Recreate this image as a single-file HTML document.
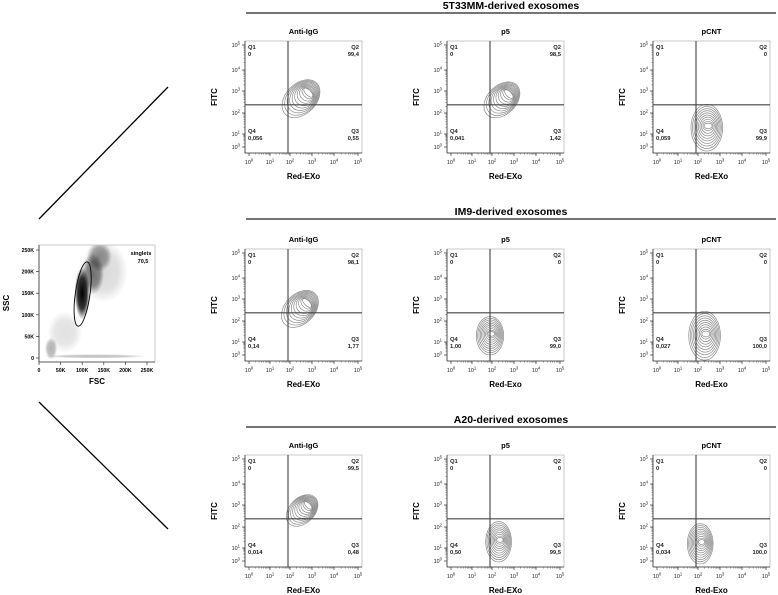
<!DOCTYPE html>
<html><head><meta charset="utf-8"><style>
html,body{margin:0;padding:0;background:#fff;}
svg{display:block;font-family:"Liberation Sans",Arial,sans-serif;}
</style></head><body>
<svg id="fig" width="778" height="595" viewBox="0 0 778 595" xmlns="http://www.w3.org/2000/svg">
<g id="static">
<line x1="39" y1="219" x2="168" y2="87" stroke="#000" stroke-width="1.3"/>
<line x1="39" y1="402" x2="168" y2="529" stroke="#000" stroke-width="1.3"/>
</g>
</svg>
<script>
const NS='http://www.w3.org/2000/svg';
const svg=document.getElementById('fig');
function mk(tag,attrs,parent,txt){const e=document.createElementNS(NS,tag);for(const k in attrs)e.setAttribute(k,attrs[k]);if(txt!==undefined)e.textContent=txt;(parent||svg).appendChild(e);return e;}

// ---------- data ----------
const sectionTitles=['5T33MM-derived exosomes','IM9-derived exosomes','A20-derived exosomes'];
const panelTitles=['Anti-IgG','p5','pCNT'];
const xAxisLabels=[['Red-EXo','Red-EXo','Red-EXo'],['Red-EXo','Red-Exo','Red-Exo'],['Red-EXo','Red-EXo','Red-Exo']];
const q1Values=[['0','0','0'],['0','0','0'],['0','0','0']];
const q2Values=[['99,4','98,5','0'],['98,1','0','0'],['99,5','0','0']];
const q3Values=[['0,55','1,42','99,9'],['1,77','99,0','100,0'],['0,48','99,5','100,0']];
const q4Values=[['0,056','0,041','0,059'],['0,14','1,00','0,027'],['0,014','0,50','0,034']];
const popCenterX=[[2.5,2.45,2.4],[2.45,1.9,2.3],[2.55,2.3,2.1]];
const popCenterY=[[2.65,2.6,1.3],[2.55,1.3,1.3],[2.75,1.3,1.2]];
const popSpreadX=[[0.85,0.8,0.8],[0.85,0.7,0.8],[0.7,0.65,0.65]];
const popSpreadY=[[0.95,0.9,1.15],[0.9,0.95,1.2],[0.8,1.0,1.0]];
const popAngle=[[-45,-45,0],[-45,0,0],[-45,0,0]];
const quadX=1.9, quadY=2.37;
const tickDecades=[0,1,2,3,4,5];
const fscTicks=[0,50,100,150,200,250];
const sscTicks=[0,50,100,150,200,250];
const clusterFsc=[100,125,140,28,130,60,150];
const clusterSsc=[150,195,235,22,4,60,200];
const clusterSdF=[11,16,18,9,75,25,35];
const clusterSdS=[38,30,22,16,3,30,45];
const clusterAlpha=[1,0.5,0.4,0.3,0.25,0.12,0.15];
const gateFsc=101, gateSsc=148, gateRF=17, gateRS=75, gateAngle=8;
const gateName='singlets', gatePct='70,5';

// ---------- geometry ----------
const colLeft=[245,447,653], rowTop=[41,249,455], W=117, H=112;
const sectionLineY=[13,219,427];
const xDecPx=[4,25,45,67,89,113];
const yDecPx=[106,93,72,50,29,4];
function interp(arr,v){if(v<=0)return arr[0]+(arr[1]-arr[0])*v;if(v>=5)return arr[5]+(arr[5]-arr[4])*(v-5);const i=Math.floor(v),f=v-i;return arr[i]+(arr[i+1]-arr[i])*f;}
function xs(v){return interp(xDecPx,v);} function ys(v){return interp(yDecPx,v);}

sectionTitles.forEach((t,r)=>{
  const g=mk('g',{},svg);
  const tx=mk('text',{x:511,y:sectionLineY[r]-4,'text-anchor':'middle','font-size':'10.5','font-weight':'bold'},g,t);
  
  const ln=mk('line',{x1:246,x2:776,y1:sectionLineY[r],y2:sectionLineY[r],stroke:'#222','stroke-width':'1.3'},g);
  
});

function decLabel(g,x,y,d,anchor){
  const t=mk('text',{x:x,y:y,'font-size':'5.4','text-anchor':anchor,fill:'#222'},g);
  mk('tspan',{},t,'10');mk('tspan',{dy:'-2.3','font-size':'4.2'},t,String(d));
  return t;
}

for(let r=0;r<3;r++)for(let c=0;c<3;c++){
  const L=colLeft[c],T=rowTop[r];
  const g=mk('g',{transform:`translate(${L},${T})`},svg);
  
  
  const tt=mk('text',{x:W/2,y:-7,'text-anchor':'middle','font-size':'7.5','font-weight':'bold'},g,panelTitles[c]);
  
  const box=mk('rect',{x:0,y:0,width:W,height:H,fill:'none',stroke:'#bbb','stroke-width':'0.8'},g);
  
  mk('line',{x1:0,y1:0,x2:0,y2:H,stroke:'#333','stroke-width':'0.8'},g);
  mk('line',{x1:0,y1:H,x2:W,y2:H,stroke:'#333','stroke-width':'0.8'},g);
  tickDecades.forEach(d=>{
    const px=xs(d),py=ys(d);
    mk('line',{x1:px,x2:px,y1:H,y2:H+3,stroke:'#333','stroke-width':'0.7'},g);
    mk('line',{x1:0,x2:-3,y1:py,y2:py,stroke:'#333','stroke-width':'0.7'},g);
    const xl=decLabel(g,px,H+11,d,'middle');
    const yl=decLabel(g,-5,py+2,d,'end');
    if(d<5)for(let m=2;m<=9;m++){const v=d+Math.log10(m);
      mk('line',{x1:xs(v),x2:xs(v),y1:H,y2:H+1.6,stroke:'#555','stroke-width':'0.5'},g);
      mk('line',{x1:0,x2:-1.6,y1:ys(v),y2:ys(v),stroke:'#555','stroke-width':'0.5'},g);}
  });
  const xt=mk('text',{x:W/2,y:H+26,'text-anchor':'middle','font-size':'8','font-weight':'bold'},g,xAxisLabels[r][c]);
  
  const yt=mk('text',{x:0,y:0,transform:`translate(-28,${H/2}) rotate(-90)`,'text-anchor':'middle','font-size':'8','font-weight':'bold'},g,'FITC');
  
  const cg=mk('g',{},g);
  const cx=xs(popCenterX[r][c]),cy=ys(popCenterY[r][c]);
  const sxp=(xs(popCenterX[r][c]+popSpreadX[r][c])-cx), syp=(cy-ys(popCenterY[r][c]+popSpreadY[r][c]));
  const ang=popAngle[r][c];
  const levels=[1,0.9,0.8,0.7,0.6,0.5,0.4,0.3,0.2,0.12];
  levels.forEach((f,i)=>{
    let rx,ry,ox=0,oy=0;
    if(ang!==0){const a=Math.hypot(sxp,syp);rx=a*0.8*f;ry=a*0.55*(0.3+0.7*f);ox=(1-f)*a*0.3;oy=-(1-f)*a*0.25;}
    else{rx=sxp*(0.15+0.85*f)*0.9;ry=syp*f*0.95;ox=(1-f)*1.5;oy=(1-f)*-2;}
    const e=mk('ellipse',{cx:cx+ox,cy:cy+oy,rx:Math.max(rx,0.8),ry:Math.max(ry,0.8),transform:`rotate(${ang} ${cx+ox} ${cy+oy})`,fill:'none',stroke:'#8a8a8a','stroke-width':'0.7'},cg);
    
  });
  const qx=xs(quadX),qy=ys(quadY);
  const vl=mk('line',{x1:qx,x2:qx,y1:0,y2:H,stroke:'#444','stroke-width':'1.1'},g);
  
  const hl=mk('line',{x1:0,x2:W,y1:qy,y2:qy,stroke:'#444','stroke-width':'1.1'},g);
  
  const qs=[['Q1',q1Values[r][c],3,8,'start'],['Q2',q2Values[r][c],W-3,8,'end'],['Q4',q4Values[r][c],3,H-20,'start'],['Q3',q3Values[r][c],W-3,H-20,'end']];
  qs.forEach(q=>{
    const a=mk('text',{x:q[2],y:q[3],'font-size':'5.8','font-weight':'bold','text-anchor':q[4],fill:'#222'},g,q[0]);
    
    const b=mk('text',{x:q[2],y:q[3]+7,'font-size':'5.8','font-weight':'bold','text-anchor':q[4],fill:'#222'},g,q[1]);
    
  });
}

// ---------- scatter FSC/SSC ----------
const SL=39,ST=245,SW=116,SH=117;
function fx(v){return SL+v/250*108;} function fy(v){return 358-v/250*108;}
const sg=mk('g',{},svg);
const defs=mk('defs',{},sg);
const gr=mk('radialGradient',{id:'dens'},defs);
mk('stop',{offset:'0','stop-color':'#000','stop-opacity':'1'},gr);
mk('stop',{offset:'0.6','stop-color':'#000','stop-opacity':'0.8'},gr);
mk('stop',{offset:'1','stop-color':'#000','stop-opacity':'0'},gr);
const cp=mk('clipPath',{id:'sclip'},defs);
mk('rect',{x:SL,y:ST,width:SW,height:SH},cp);
const cl=mk('g',{'clip-path':'url(#sclip)'},sg);
clusterFsc.forEach((f,i)=>{
  const e=mk('ellipse',{cx:fx(f),cy:fy(clusterSsc[i]),rx:clusterSdF[i]/250*108*1.6,ry:clusterSdS[i]/250*108*1.6,fill:'url(#dens)',opacity:clusterAlpha[i]},cl);
  
});
mk('rect',{x:SL,y:ST,width:SW,height:SH,fill:'none',stroke:'#bbb','stroke-width':'0.8'},sg);
mk('line',{x1:SL,y1:ST,x2:SL,y2:ST+SH,stroke:'#333','stroke-width':'0.8'},sg);
mk('line',{x1:SL,y1:ST+SH,x2:SL+SW,y2:ST+SH,stroke:'#333','stroke-width':'0.8'},sg);
fscTicks.forEach(v=>{
  mk('line',{x1:fx(v),x2:fx(v),y1:ST+SH,y2:ST+SH+3,stroke:'#333','stroke-width':'0.7'},sg);
  const t=mk('text',{x:fx(v),y:ST+SH+10,'text-anchor':'middle','font-size':'5.2','font-weight':'bold'},sg,v===0?'0':v+'K');
  
});
sscTicks.forEach(v=>{
  mk('line',{x1:SL,x2:SL-3,y1:fy(v),y2:fy(v),stroke:'#333','stroke-width':'0.7'},sg);
  const t=mk('text',{x:SL-5,y:fy(v)+2,'text-anchor':'end','font-size':'5.2','font-weight':'bold'},sg,v===0?'0':v+'K');
  
});
const gcx=fx(gateFsc),gcy=fy(gateSsc);
const gate=mk('ellipse',{cx:gcx,cy:gcy,rx:gateRF/250*108,ry:gateRS/250*108,transform:`rotate(${gateAngle} ${gcx} ${gcy})`,fill:'none',stroke:'#000','stroke-width':'0.9'},sg);

const gl=mk('text',{x:141,y:255,'text-anchor':'middle','font-size':'5.5','font-weight':'bold'},sg,gateName);

const gp=mk('text',{x:143,y:263,'text-anchor':'middle','font-size':'5.5','font-weight':'bold'},sg,gatePct);

const fxl=mk('text',{x:97,y:384,'text-anchor':'middle','font-size':'8','font-weight':'bold'},sg,'FSC');

const syl=mk('text',{x:0,y:0,transform:'translate(9,303) rotate(-90)','text-anchor':'middle','font-size':'8','font-weight':'bold'},sg,'SSC');

</script>
</body></html>
